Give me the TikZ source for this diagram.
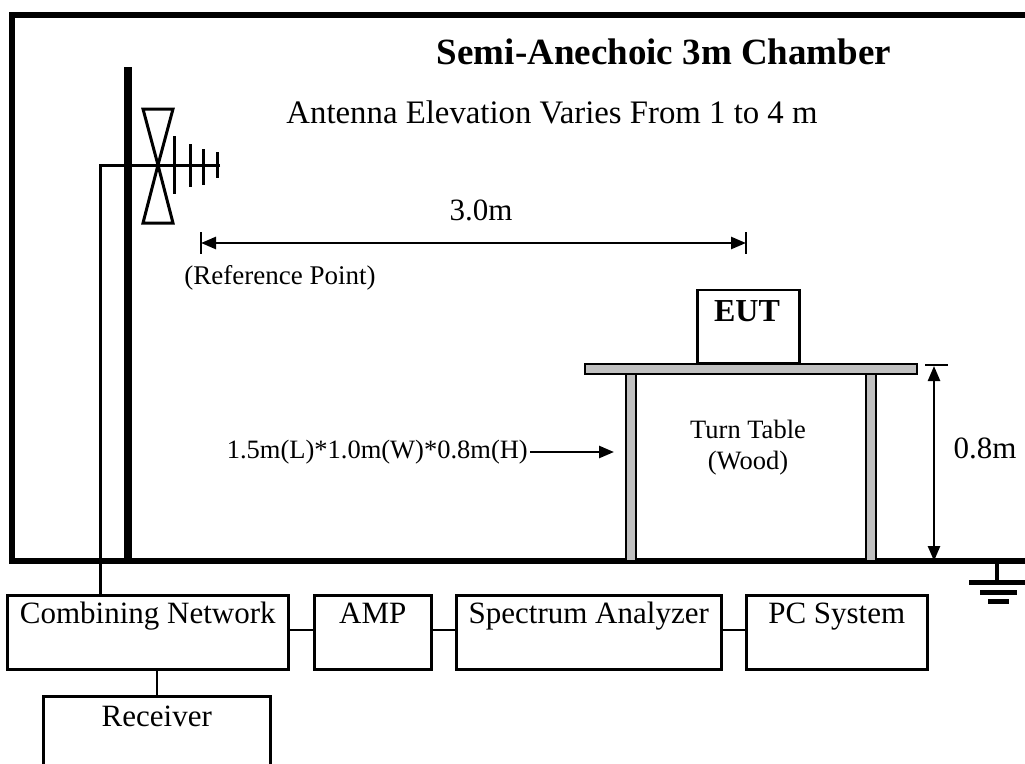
\documentclass[tikz,border=0pt]{standalone}
\usepackage{fontspec}
\setmainfont{Liberation Serif}
\usetikzlibrary{arrows.meta}
\newcommand\myfs[1]{\fontsize{#1}{#1}\selectfont}
\definecolor{legray}{HTML}{C0C0C0}
\tikzset{
  box/.style={draw, line width=2.5, inner sep=0pt, text height=28pt, text depth=46pt, font=\myfs{31}, anchor=north west},
  txt/.style={inner sep=0pt, anchor=base},
  wire/.style={line width=2.5},
  wall/.style={line width=6},
  dimarrow/.style={line width=2.5, {Triangle[length=15pt,width=12pt]}-{Triangle[length=15pt,width=12pt]}},
  onearrow/.style={line width=2.5, -{Triangle[length=15pt,width=12pt]}},
  wood/.style={draw, line width=2.5, fill=legray},
}
\begin{document}
\begin{tikzpicture}[x=1pt, y=-1pt]
\clip (0,0) rectangle (1025,763);
\fill[white] (0,0) rectangle (1025,763);
% chamber
\draw[wall] (1040,561) -- (12,561) -- (12,14.5) -- (1040,14.5);
% ground symbol
\coordinate (gnd) at (997,561);
\draw[line width=4] (gnd) -- (997,582);
\draw[line width=5] (969,582) -- (1026,582);
\draw[line width=5] (980,592) -- (1017,592);
\draw[line width=5] (988,601) -- (1009,601);
% mast
\draw[line width=8] (127.5,67) -- (127.5,561);
% antenna
\draw[line width=3, line join=miter] (143,109) -- (173,109) -- (158,165) -- cycle;
\draw[line width=3, line join=miter] (158,165) -- (143,223) -- (173,223) -- cycle;
\draw[line width=3] (174,136) -- (174,194);
\draw[line width=3] (190,144) -- (190,187);
\draw[line width=3] (203,149) -- (203,185);
\draw[line width=3] (217,152) -- (217,178);
\coordinate (boomtip) at (220,165);
% titles
\node[txt, font=\myfs{37}\bfseries] (title) at (664,64) {Semi-Anechoic 3m Chamber};
\node[txt, font=\myfs{32.8}] (elev) at (552,123) {Antenna Elevation Varies From 1 to 4 m};
% 3.0 m dimension
\coordinate (refA) at (201,243);
\coordinate (refB) at (746,243);
\draw[wire] (201,232) -- (201,254);
\draw[wire] (746,232) -- (746,254);
\draw[dimarrow] (refA) -- (refB);
\node[txt, font=\myfs{31}] (dist) at (481,220) {3.0m};
\node[txt, font=\myfs{27}] (refpt) at (280,284) {(Reference Point)};
% table
\draw[wood] (626,374) rectangle (636,561);
\draw[wood] (866,374) rectangle (876,561);
\draw[wood] (585,364) rectangle (917,374);
\node[draw, line width=2.5, fill=white, minimum width=102pt, minimum height=73pt, inner sep=0pt, anchor=south west] (eutbox) at (696,364) {};
\node[txt, font=\myfs{32}\bfseries] (eut) at (747,321) {EUT};
\node[txt, font=\myfs{26.5}] (tt1) at (748,438) {Turn Table};
\node[txt, font=\myfs{26.5}] (tt2) at (748,469) {(Wood)};
% dimension text
\node[inner sep=0pt, anchor=east, font=\myfs{26.5}] (dim) at (528,452) {1.5m(L)*1.0m(W)*0.8m(H)};
\coordinate (legL) at (614,452);
\draw[onearrow] (dim.east) ++(2,0) -- (legL);
% height
\draw[line width=2] (925,365) -- (948,365);
\coordinate (hTop) at (934,366);
\coordinate (hBot) at (934,561);
\draw[dimarrow] (hTop) -- (hBot);
\node[txt, font=\myfs{31}] (h08) at (985,458) {0.8m};
% boxes
\node[box, minimum width=281pt] (cn) at (6,594) {Combining Network};
\node[box, minimum width=117pt] (amp) at (313,594) {AMP};
\node[box, minimum width=265pt] (sa) at (455,594) {Spectrum Analyzer};
\node[box, minimum width=181pt] (pc) at (745,594) {PC System};
\node[box, minimum width=227pt, text height=30pt, text depth=80pt] (rcv) at (42,695) {Receiver};
% connectors
\draw[wire] ([yshift=-36pt]cn.north east) -- ([yshift=-36pt]amp.north west);
\draw[wire] ([yshift=-36pt]amp.north east) -- ([yshift=-36pt]sa.north west);
\draw[wire] ([yshift=-36pt]sa.north east) -- ([yshift=-36pt]pc.north west);
\draw[wire] (rcv.north) -- (rcv.north |- cn.south);
\draw[line width=3] (boomtip) -| ([xshift=94pt]cn.north west);
\end{tikzpicture}
\end{document}
